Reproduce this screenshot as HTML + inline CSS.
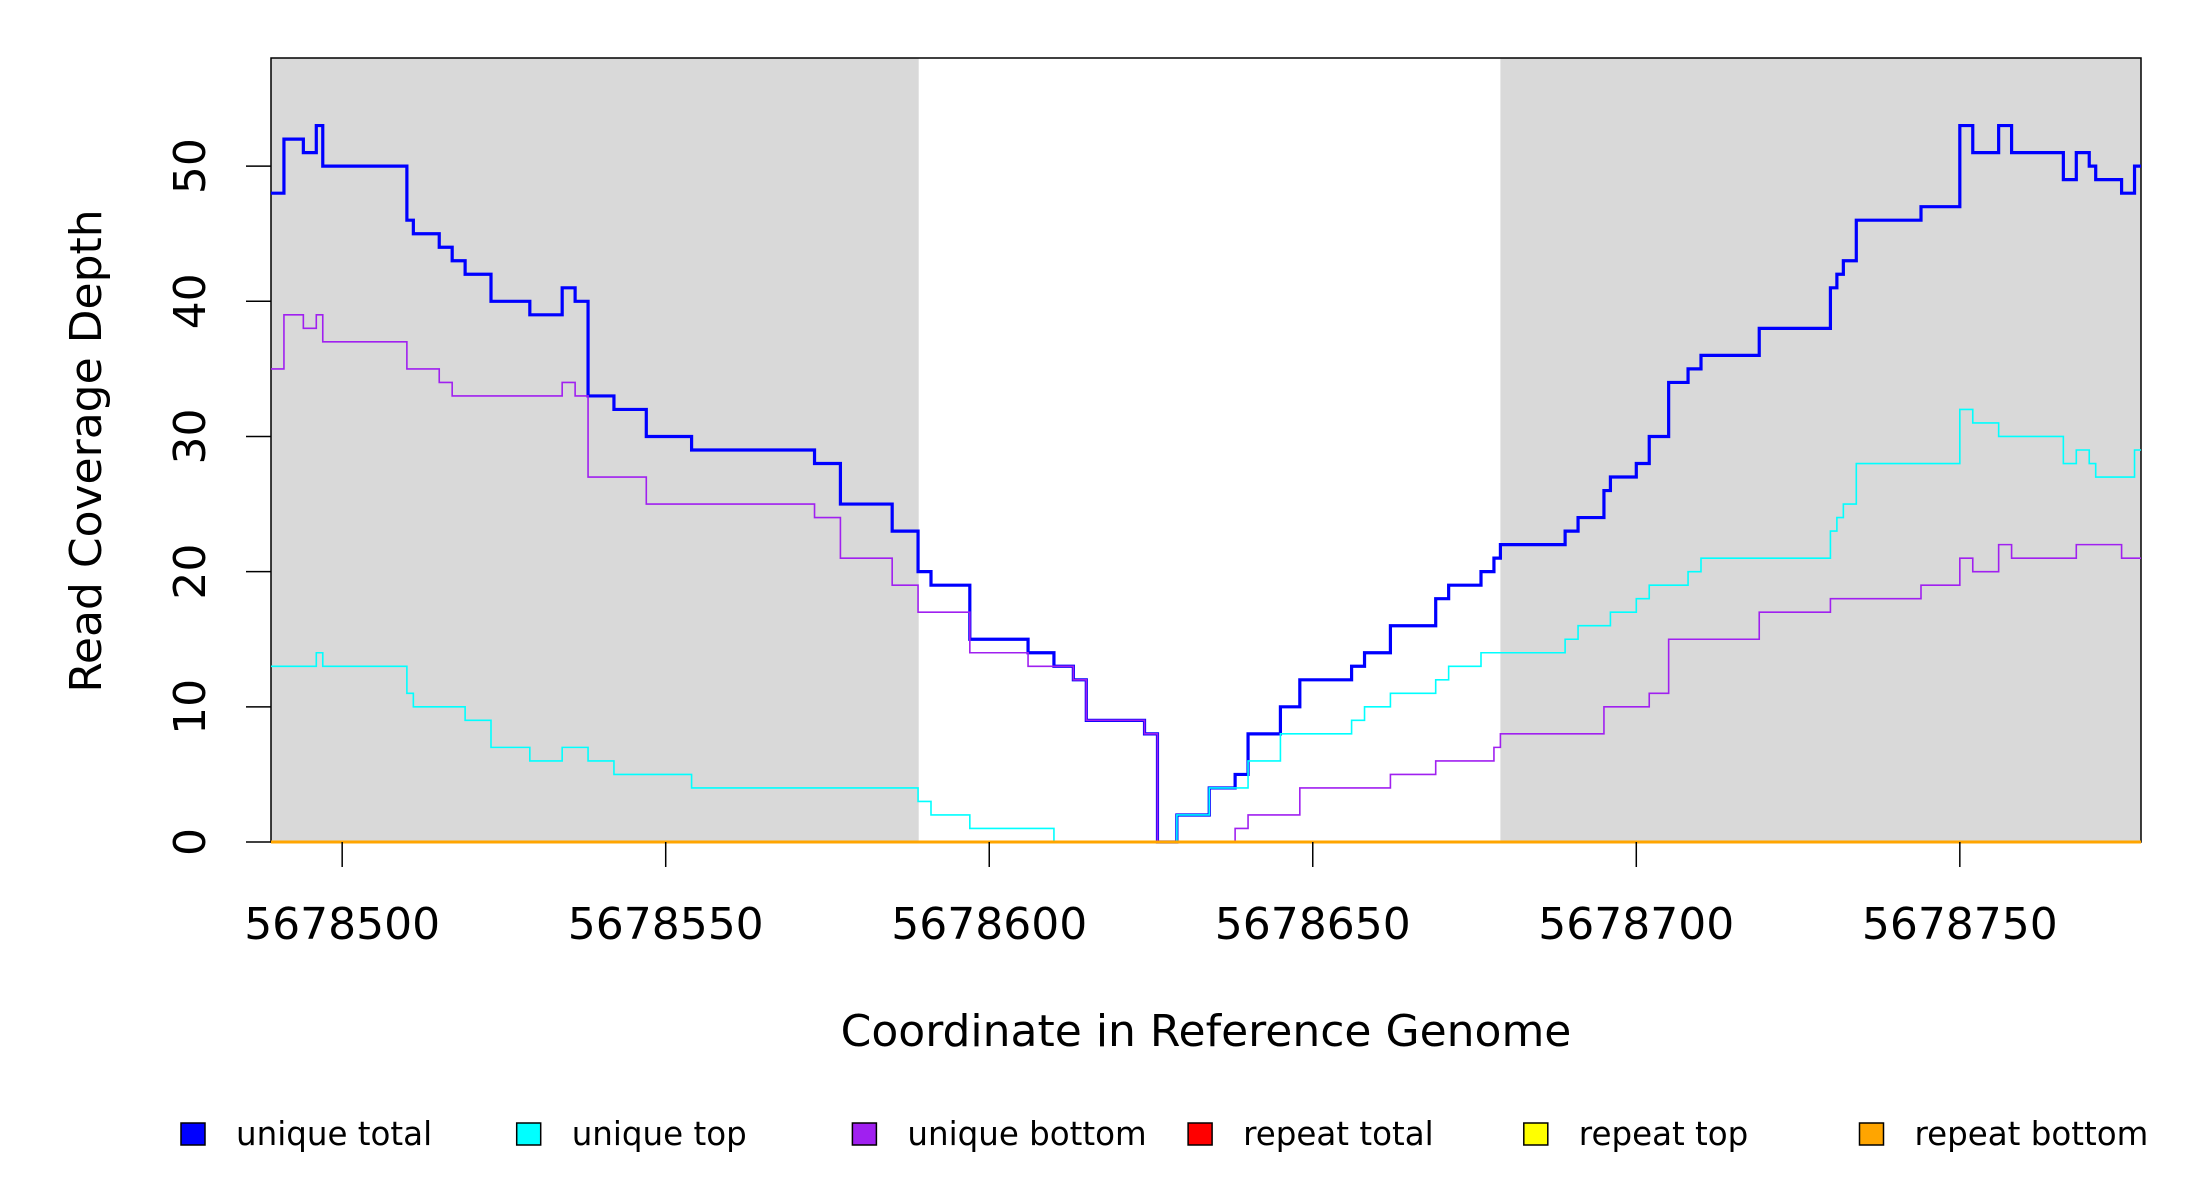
<!DOCTYPE html>
<html><head><meta charset="utf-8"><style>
html,body{margin:0;padding:0;background:#fff;}
svg{display:block;font-family:"DejaVu Sans","Liberation Sans",sans-serif;}
</style></head><body>
<svg id="chart" width="2200" height="1200" viewBox="0 0 2200 1200" xmlns="http://www.w3.org/2000/svg">
<g id="bg"></g>
<rect x="271" y="58" width="1870" height="784" fill="none" stroke="#000" stroke-width="1.5"/>
<g id="series"></g>
<g id="xaxis"></g>
<g id="yaxis"></g>
<text x="1206" y="1046" font-size="44" text-anchor="middle">Coordinate in Reference Genome</text>
<text transform="translate(101,451) rotate(-90)" font-size="44" text-anchor="middle">Read Coverage Depth</text>
<g id="legend"></g>
</svg>
<script>
const xTicks = [5678500, 5678550, 5678600, 5678650, 5678700, 5678750];
const yTicks = [0, 10, 20, 30, 40, 50];
const shaded = [[5678489, 5678589.1], [5678679, 5678778]];
const totalStarts = [489,491,494,496,497,510,511,515,517,519,523,529,534,536,538,542,547,554,573,577,585,589,591,597,606,610,613,615,624,626,629,634,638,640,645,648,656,658,662,669,671,676,678,679,689,691,695,696,700,702,705,708,710,719,730,731,732,734,744,750,752,756,758,766,768,770,771,775,777];
const totalValues = [48,52,51,53,50,46,45,44,43,42,40,39,41,40,33,32,30,29,28,25,23,20,19,15,14,13,12,9,8,0,2,4,5,8,10,12,13,14,16,18,19,20,21,22,23,24,26,27,28,30,34,35,36,38,41,42,43,46,47,53,51,53,51,49,51,50,49,48,50];
const topStarts = [489,496,497,510,511,519,523,529,534,538,542,554,589,591,597,610,629,634,640,645,656,658,662,669,671,676,689,691,696,700,702,708,710,730,731,732,734,750,752,756,766,768,770,771,777];
const topValues = [13,14,13,11,10,9,7,6,7,6,5,4,3,2,1,0,2,4,6,8,9,10,11,12,13,14,15,16,17,18,19,20,21,23,24,25,28,32,31,30,28,29,28,27,29];
const bottomStarts = [489,491,494,496,497,510,515,517,534,536,538,547,573,577,585,589,597,606,613,615,624,626,638,640,648,662,669,678,679,695,702,705,719,730,744,750,752,756,758,768,775];
const bottomValues = [35,39,38,39,37,35,34,33,34,33,27,25,24,21,19,17,14,13,12,9,8,0,1,2,4,5,6,7,8,10,11,15,17,18,19,21,20,22,21,22,21];
const repeatStarts = [489];
const repeatValues = [0];
const base = 5678000, xEnd = 5678778;
const legendLabels = ["unique total","unique top","unique bottom","repeat total","repeat top","repeat bottom"];
const legendColors = ["#0000FF","#00FFFF","#A020F0","#FF0000","#FFFF00","#FFA500"];

const XMIN = 5678489, XMAX = 5678778, YMIN = 0, YMAX = 58;
const PL = 271, PR = 2141, PT = 58, PB = 842;
function xs(c){ return PL + (c - XMIN) / (XMAX - XMIN) * (PR - PL); }
function ys(v){ return PB - (v - YMIN) / (YMAX - YMIN) * (PB - PT); }
const NS = "http://www.w3.org/2000/svg";
function mk(tag, attrs, parent){ const e = document.createElementNS(NS, tag); for (const k in attrs) e.setAttribute(k, attrs[k]); parent.appendChild(e); return e; }

const bg = document.getElementById('bg');
shaded.forEach(function(r){
  const e = mk('rect', {x: xs(r[0]), y: PT, width: xs(r[1]) - xs(r[0]), height: PB - PT, fill: '#D9D9D9'}, bg);
  
  
});

function stepPath(starts, values){
  let d = '';
  for (let i = 0; i < starts.length; i++){
    const x0 = xs(base + starts[i]);
    const x1 = xs(i + 1 < starts.length ? base + starts[i + 1] : xEnd);
    const y = ys(values[i]);
    d += (i === 0 ? 'M' : 'L') + x0 + ' ' + y + ' L' + x1 + ' ' + y + ' ';
  }
  return d;
}
const sg = document.getElementById('series');
const seriesDefs = [
  ['unique-total-line', totalStarts, totalValues, '#0000FF', 3.2],
  ['unique-top-line', topStarts, topValues, '#00FFFF', 1.6],
  ['unique-bottom-line', bottomStarts, bottomValues, '#A020F0', 1.6],
  ['repeat-total-line', repeatStarts, repeatValues, '#FF0000', 1.6],
  ['repeat-top-line', repeatStarts, repeatValues, '#FFFF00', 1.6],
  ['repeat-bottom-line', repeatStarts, repeatValues, '#FFA500', 3]
];
seriesDefs.forEach(function(s){
  const p = mk('path', {d: stepPath(s[1], s[2]), fill: 'none', stroke: s[3], 'stroke-width': s[4], 'stroke-linejoin': 'miter'}, sg);
  
  
});

const xa = document.getElementById('xaxis');
xTicks.forEach(function(t){
  const l = mk('line', {x1: xs(t), x2: xs(t), y1: PB, y2: PB + 25, stroke: '#000', 'stroke-width': 1.5}, xa);
  
  
  const tx = mk('text', {x: xs(t), y: 939, 'font-size': 44, 'text-anchor': 'middle'}, xa);
  tx.textContent = String(t);
  
  
});
const ya = document.getElementById('yaxis');
yTicks.forEach(function(t){
  const l = mk('line', {x1: PL - 25, x2: PL, y1: ys(t), y2: ys(t), stroke: '#000', 'stroke-width': 1.5}, ya);
  
  
  const tx = mk('text', {transform: 'translate(205,' + ys(t) + ') rotate(-90)', 'font-size': 44, 'text-anchor': 'middle'}, ya);
  tx.textContent = String(t);
  
  
});

const lg = document.getElementById('legend');
legendLabels.forEach(function(lab, i){
  const bx = 181 + i * 335.7;
  const r = mk('rect', {x: bx, y: 1123, width: 24, height: 22, fill: legendColors[i], stroke: '#000', 'stroke-width': 1.5}, lg);
  
  
  const tx = mk('text', {x: bx + 55, y: 1145, 'font-size': 32.5}, lg);
  tx.textContent = lab;
  
  
});
</script>
</body></html>
